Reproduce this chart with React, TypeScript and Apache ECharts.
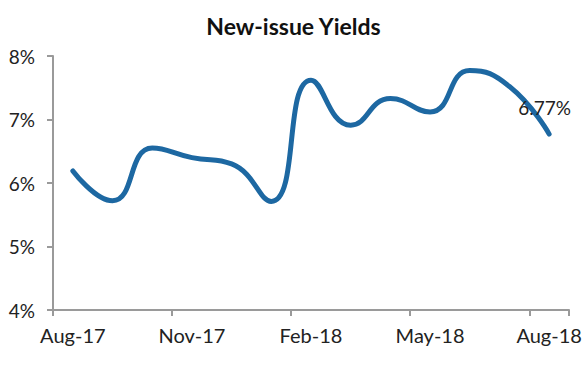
import React, { useEffect, useRef } from "react";
import * as echarts from "echarts";

const months = ["Aug-17","Sep-17","Oct-17","Nov-17","Dec-17","Jan-18","Feb-18","Mar-18","Apr-18","May-18","Jun-18","Jul-18","Aug-18"];
const yields = [6.19, 5.72, 6.55, 6.4, 6.3, 5.71, 7.62, 6.91, 7.33, 7.12, 7.77, 7.52, 6.77];
const yTicks = [4, 5, 6, 7, 8];

export default function App() {
  const ref = useRef<HTMLDivElement>(null);
  useEffect(() => {
    const chart = echarts.init(ref.current!, null, { renderer: "svg" });
    const font = "Lato, 'Noto Sans', sans-serif";
    const last = yields.length - 1;
    chart.setOption({
      animation: false,
      title: {
        text: "New-issue Yields",
        left: "center",
        top: 9,
        textStyle: { fontFamily: font, fontSize: 23, fontWeight: "bold", color: "#111" },
      },
      grid: { left: 53, right: 18, top: 56, bottom: 58 },
      xAxis: {
        type: "category",
        data: months,
        boundaryGap: true,
        axisLine: { lineStyle: { color: "#9a9a9a", width: 2 } },
        axisTick: { show: true, interval: 2, length: 6, lineStyle: { color: "#9a9a9a", width: 2 } },
        axisLabel: { interval: 2, margin: 15, fontFamily: font, fontSize: 20, color: "#222" },
      },
      yAxis: {
        type: "value",
        min: yTicks[0],
        max: yTicks[yTicks.length - 1],
        interval: 1,
        splitLine: { show: false },
        axisLine: { show: true, lineStyle: { color: "#9a9a9a", width: 2 } },
        axisTick: { show: true, length: 6, lineStyle: { color: "#9a9a9a", width: 2 } },
        axisLabel: { margin: 18, fontFamily: font, fontSize: 19, color: "#222", formatter: (v: number) => v + "%" },
      },
      series: [
        {
          type: "line",
          data: yields,
          smooth: true,
          symbol: "none",
          lineStyle: { color: "#1d68a2", width: 5, cap: "round" },
          endLabel: {
            show: true,
            formatter: () => yields[last].toFixed(2) + "%",
            offset: [-39, -27],
            fontFamily: font,
            fontSize: 19,
            color: "#222",
          },
        },
      ],
    });
    return () => chart.dispose();
  }, []);
  return <div ref={ref} style={{ width: 587, height: 368, position: "absolute", left: 0, top: 0 }} />;
}
